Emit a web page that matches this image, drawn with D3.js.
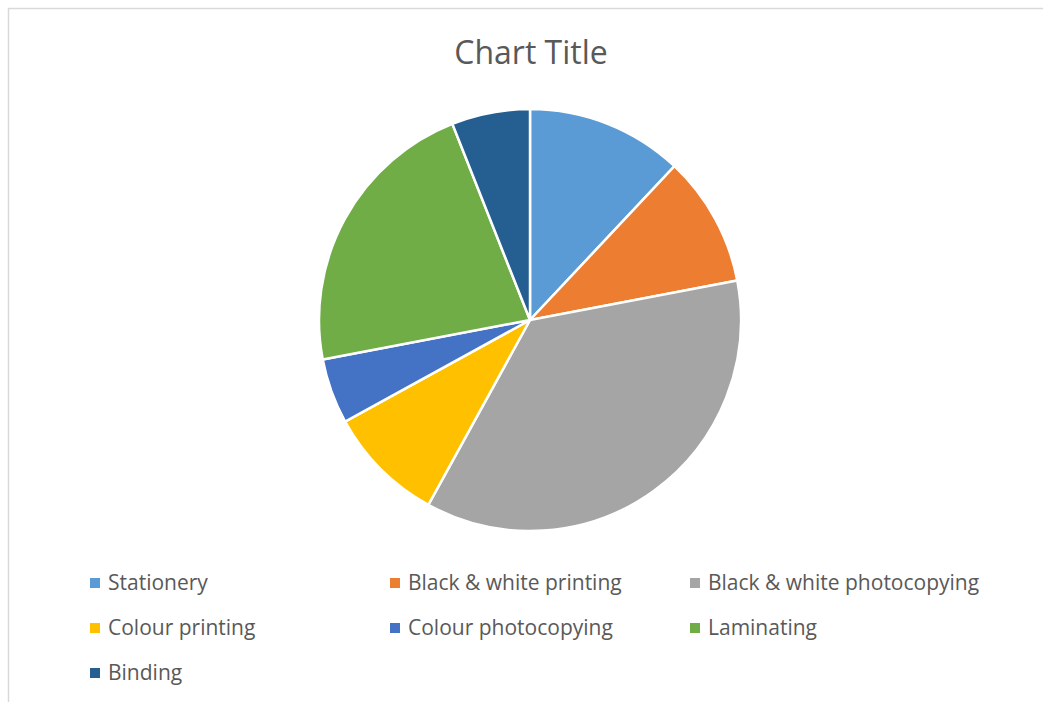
<!DOCTYPE html>
<html>
<head>
<meta charset="utf-8">
<script src="https://cdn.jsdelivr.net/npm/d3@7"></script>
<style>
  body { margin: 0; background: #fff; }
  text { font-family: "Open Sans", sans-serif; fill: #595959; }
</style>
</head>
<body>
<div id="chart"></div>
<script>
// Pie data
const categories = ["Stationery", "Black & white printing", "Black & white photocopying",
  "Colour printing", "Colour photocopying", "Laminating", "Binding"];
const values = [12, 10, 36, 9, 5, 22, 6];
const colours = ["#5B9BD5", "#ED7D31", "#A5A5A5", "#FFC000", "#4472C4", "#70AD47", "#255E91"];

const width = 1043, height = 702;

const svg = d3.select("#chart")
  .append("svg")
  .attr("width", width)
  .attr("height", height);

// chart area border (right and bottom edges run off the page)
svg.append("rect")
  .attr("x", 8.5).attr("y", 8.5)
  .attr("width", 1100).attr("height", 720)
  .style("fill", "none")
  .style("stroke", "#d9d9d9")
  .style("stroke-width", "1.5px");

// Title
svg.append("text")
  .attr("x", 531)
  .attr("y", 64)
  .style("text-anchor", "middle")
  .style("font-size", "32px")
  .text("Chart Title");

const data = categories.map((c, i) => ({ name: c, value: values[i], colour: colours[i] }));

const pie = d3.pie().value(d => d.value).sort(null);
const arc = d3.arc().innerRadius(0).outerRadius(211);

const g = svg.append("g").attr("transform", "translate(530,320)");

g.selectAll(".slice")
  .data(pie(data))
  .enter()
  .append("path")
  .attr("class", "slice")
  .attr("d", arc)
  .style("fill", d => d.data.colour)
  .style("stroke", "#fff")
  .style("stroke-width", "2.5px");

// Legend, three columns
const colX = d3.scalePoint().domain([0, 1, 2]).range([90, 690]);
const rowY = d3.scalePoint().domain([0, 1, 2]).range([583, 673]);

const item = svg.selectAll(".legend")
  .data(data)
  .enter()
  .append("g")
  .attr("class", "legend")
  .attr("transform", (d, i) => `translate(${colX(i % 3)},${rowY(Math.floor(i / 3))})`);

item.append("rect")
  .attr("x", 0).attr("y", -5)
  .attr("width", 10).attr("height", 10)
  .style("fill", d => d.colour);

item.append("text")
  .attr("x", 18)
  .attr("dy", "0.35em")
  .style("font-size", "21px")
  .text(d => d.name);
</script>
</body>
</html>
